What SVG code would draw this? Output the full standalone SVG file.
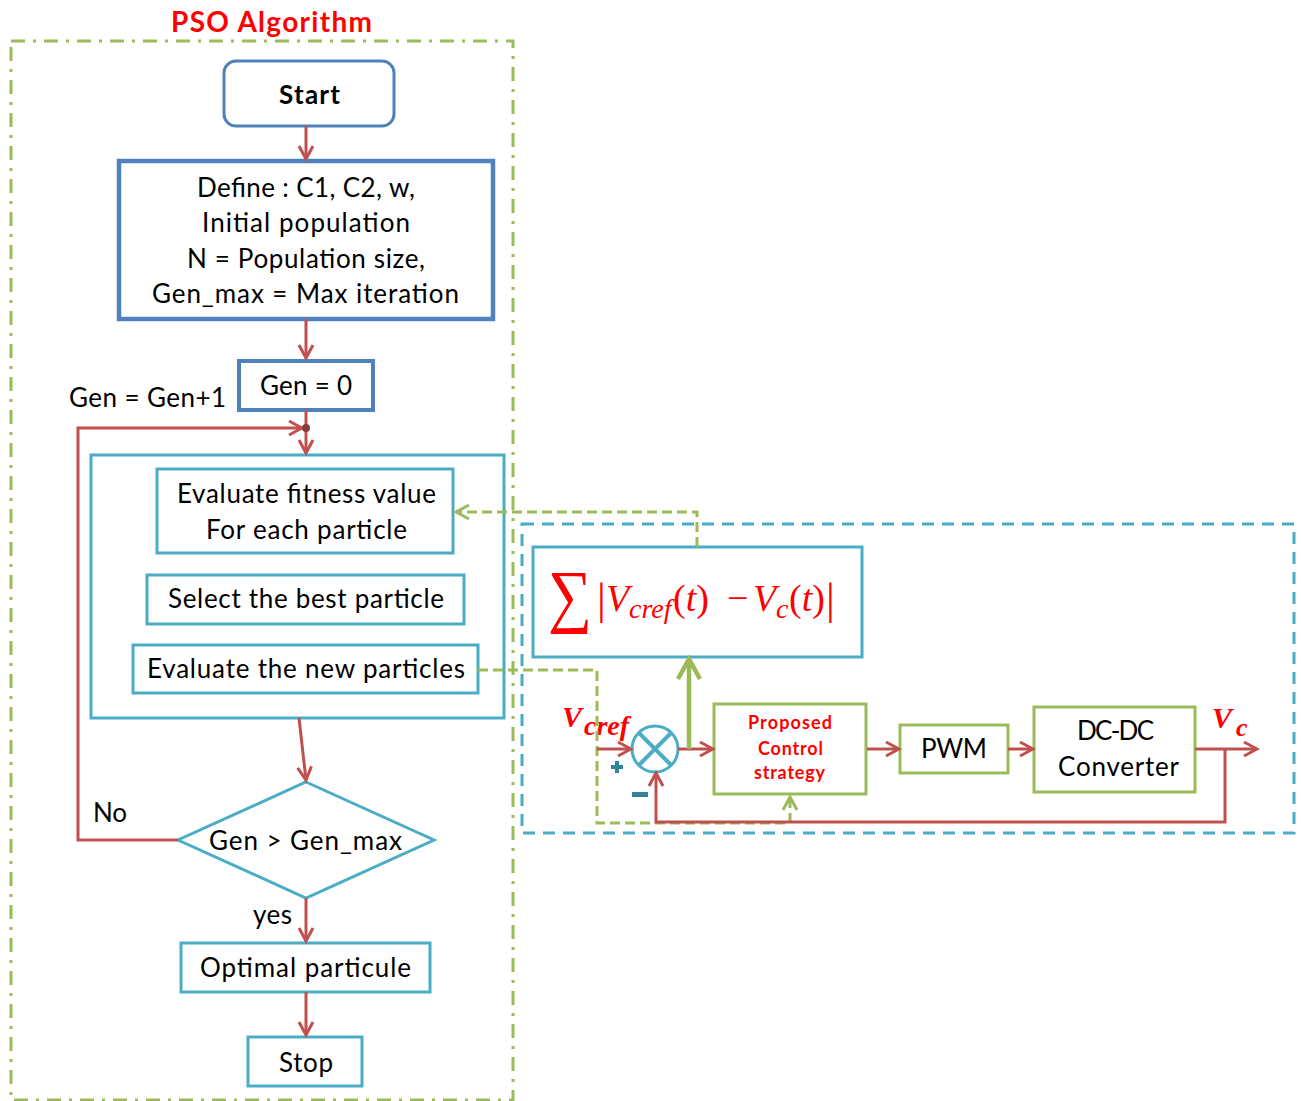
<svg xmlns="http://www.w3.org/2000/svg" width="1301" height="1101" viewBox="0 0 1301 1101">
<defs>
<style>
.t{font-family:Lato,"Open Sans","Liberation Sans",sans-serif;font-size:26px;fill:#000;text-anchor:middle}
.b{font-weight:bold}
.bl{fill:#fff;stroke:#4F81BD;stroke-width:4}
.cy{fill:#fff;stroke:#4BACC6;stroke-width:3}
.gr{fill:#fff;stroke:#9BBB59;stroke-width:3}
.rc{fill:none;stroke:#C0504D;stroke-width:3}
.gd{fill:none;stroke:#9BBB59;stroke-width:3;stroke-dasharray:10 5}
.m{font-family:"Liberation Serif","DejaVu Serif",serif;fill:#FF0000}
.i{font-style:italic}
</style>
<marker id="ar" markerUnits="userSpaceOnUse" markerWidth="20" markerHeight="20" viewBox="0 0 20 20" refX="17" refY="10" orient="auto">
<path d="M4,3 L17,10 L4,17" fill="none" stroke="#C0504D" stroke-width="3"/>
</marker>
<marker id="ag" markerUnits="userSpaceOnUse" markerWidth="20" markerHeight="20" viewBox="0 0 20 20" refX="17" refY="10" orient="auto">
<path d="M4,3 L17,10 L4,17" fill="none" stroke="#9BBB59" stroke-width="3"/>
</marker>
<marker id="agb" markerUnits="userSpaceOnUse" markerWidth="28" markerHeight="28" viewBox="0 0 28 28" refX="24" refY="14" orient="auto">
<path d="M4,3 L24,14 L4,25" fill="none" stroke="#9BBB59" stroke-width="4.5"/>
</marker>
</defs>
<rect width="1301" height="1101" fill="#fff"/>

<g id="title">
<text x="271.5" y="32" class="t b" style="fill:#FF0000;font-size:28px" textLength="201">PSO Algorithm</text>
</g>
<g id="pso-frame">
<rect x="11" y="41" width="502" height="1059" fill="none" stroke="#9BBB59" stroke-width="3" stroke-dasharray="14 8 3 8"/>
</g>
<g id="control-frame">
<rect x="522" y="524" width="772" height="309" fill="none" stroke="#4BACC6" stroke-width="3" stroke-dasharray="12 8"/>
</g>

<g id="start">
<rect x="224" y="61" width="170" height="65" rx="12" class="bl" style="stroke-width:3"/>
<text x="309.5" y="104" class="t b" textLength="61">Start</text>
</g>
<g id="define">
<rect x="119" y="161" width="374" height="158" class="bl" style="stroke-width:4.5"/>
<text x="306" y="197" class="t" textLength="218">Define : C1, C2, w,</text>
<text x="306" y="232" class="t" textLength="208">Initial population</text>
<text x="306" y="268" class="t" textLength="238">N = Population size,</text>
<text x="305.5" y="303" class="t" textLength="307">Gen_max = Max iteration</text>
</g>
<g id="gen0">
<rect x="239" y="361" width="134" height="49" class="bl"/>
<text x="306" y="395" class="t" textLength="92">Gen = 0</text>
</g>
<g id="gen-inc">
<text x="69" y="407" class="t" style="text-anchor:start" textLength="157">Gen = Gen+1</text>
</g>
<g id="loop-body">
<rect x="91" y="455" width="413" height="263" class="cy"/>
</g>
<g id="eval-fitness">
<rect x="157" y="469" width="296" height="84" class="cy"/>
<text x="306.5" y="503" class="t" textLength="259">Evaluate fitness value</text>
<text x="306.5" y="539" class="t" textLength="201">For each particle</text>
</g>
<g id="select-best">
<rect x="147" y="575" width="317" height="49" class="cy"/>
<text x="306" y="608" class="t" textLength="276">Select the best particle</text>
</g>
<g id="eval-new">
<rect x="133" y="645" width="345" height="48" class="cy"/>
<text x="306" y="678" class="t" textLength="318">Evaluate the new particles</text>
</g>
<g id="decision">
<polygon points="306,782 434,840 306,898 178,840" class="cy"/>
<text x="305.5" y="850" class="t" textLength="193">Gen &gt; Gen_max</text>
</g>
<g id="label-no">
<text x="110" y="822" class="t" textLength="34">No</text>
</g>
<g id="label-yes">
<text x="272.5" y="924" class="t" textLength="39">yes</text>
</g>
<g id="optimal">
<rect x="181" y="943" width="249" height="49" class="cy"/>
<text x="305.5" y="977" class="t" textLength="211">Optimal particule</text>
</g>
<g id="stop">
<rect x="248" y="1037" width="114" height="49" class="cy"/>
<text x="306" y="1072" class="t" textLength="54">Stop</text>
</g>

<g id="fitness-function">
<rect x="533" y="547" width="329" height="110" class="cy"/>
<text class="m" style="font-size:38px"><tspan x="548" y="619" style="font-size:70px" textLength="44" lengthAdjust="spacingAndGlyphs">∑</tspan><tspan x="597" y="614" style="font-size:44px">|</tspan><tspan x="606" y="611" class="i">V</tspan><tspan x="629" y="618" class="i" style="font-size:28px">cref</tspan><tspan x="673" y="611">(</tspan><tspan class="i">t</tspan><tspan>)</tspan><tspan x="727" y="611">−</tspan><tspan x="753" y="611" class="i">V</tspan><tspan x="776" y="618" class="i" style="font-size:28px">c</tspan><tspan x="789" y="611">(</tspan><tspan class="i">t</tspan><tspan>)</tspan><tspan x="826" y="614" style="font-size:44px">|</tspan></text>
</g>
<g id="summing-junction">
<circle cx="655" cy="749" r="23" class="cy"/>
<path d="M639,733 L671,765 M671,733 L639,765" stroke="#4BACC6" stroke-width="4"/>
<path d="M617,761 V773 M611,767 H623" stroke="#31849B" stroke-width="4"/>
<rect x="632" y="792" width="16" height="5" fill="#31849B"/>
</g>
<g id="label-vcref">
<text class="m" style="font-style:italic;font-weight:bold"><tspan x="562" y="727" style="font-size:30px">V</tspan><tspan x="584" y="735" style="font-size:28px">cref</tspan></text>
</g>
<g id="proposed">
<rect x="714" y="704" width="152" height="90" class="gr"/>
<text x="790" y="729" class="t b" style="fill:#FF0000;font-size:18px" textLength="84">Proposed</text>
<text x="790.5" y="755" class="t b" style="fill:#FF0000;font-size:18px" textLength="65">Control</text>
<text x="789.5" y="779" class="t b" style="fill:#FF0000;font-size:18px" textLength="71">strategy</text>
</g>
<g id="pwm">
<rect x="900" y="725" width="108" height="48" class="gr"/>
<text x="954" y="758" class="t" textLength="66">PWM</text>
</g>
<g id="dcdc">
<rect x="1034" y="707" width="161" height="85" class="gr"/>
<text x="1115.5" y="740" class="t" textLength="77">DC-DC</text>
<text x="1118.5" y="776" class="t" textLength="121">Converter</text>
</g>
<g id="label-vc">
<text class="m" style="font-style:italic;font-weight:bold"><tspan x="1212" y="728" style="font-size:30px">V</tspan><tspan x="1236" y="736" style="font-size:26px">c</tspan></text>
</g>

<g id="connectors">
<path class="rc" d="M306,126 V159" marker-end="url(#ar)"/>
<path class="rc" d="M306,319 V358" marker-end="url(#ar)"/>
<path class="rc" d="M306,410 V453" marker-end="url(#ar)"/>
<path class="rc" d="M178,840 H78 V428 H302" marker-end="url(#ar)"/>
<circle cx="306" cy="428" r="4" fill="#8B3A3A"/>
<path class="rc" d="M299,718 L306,780" marker-end="url(#ar)"/>
<path class="rc" d="M306,898 V941" marker-end="url(#ar)"/>
<path class="rc" d="M306,992 V1035" marker-end="url(#ar)"/>
<path class="gd" d="M697,547 V512 H456" marker-end="url(#ag)"/>
<path class="gd" d="M478,670 H597 V823 H790 V797" marker-end="url(#ag)"/>
<path class="rc" d="M597,749 H631" marker-end="url(#ar)"/>
<path class="rc" d="M678,749 H713" marker-end="url(#ar)"/>
<path d="M689,749 V659" fill="none" stroke="#9BBB59" stroke-width="4.5" marker-end="url(#agb)"/>
<path class="rc" d="M867,749 H899" marker-end="url(#ar)"/>
<path class="rc" d="M1008,749 H1033" marker-end="url(#ar)"/>
<path class="rc" d="M1195,749 H1257" marker-end="url(#ar)"/>
<path class="rc" d="M1225,749 V822 H656 V773" marker-end="url(#ar)"/>
</g>
</svg>
